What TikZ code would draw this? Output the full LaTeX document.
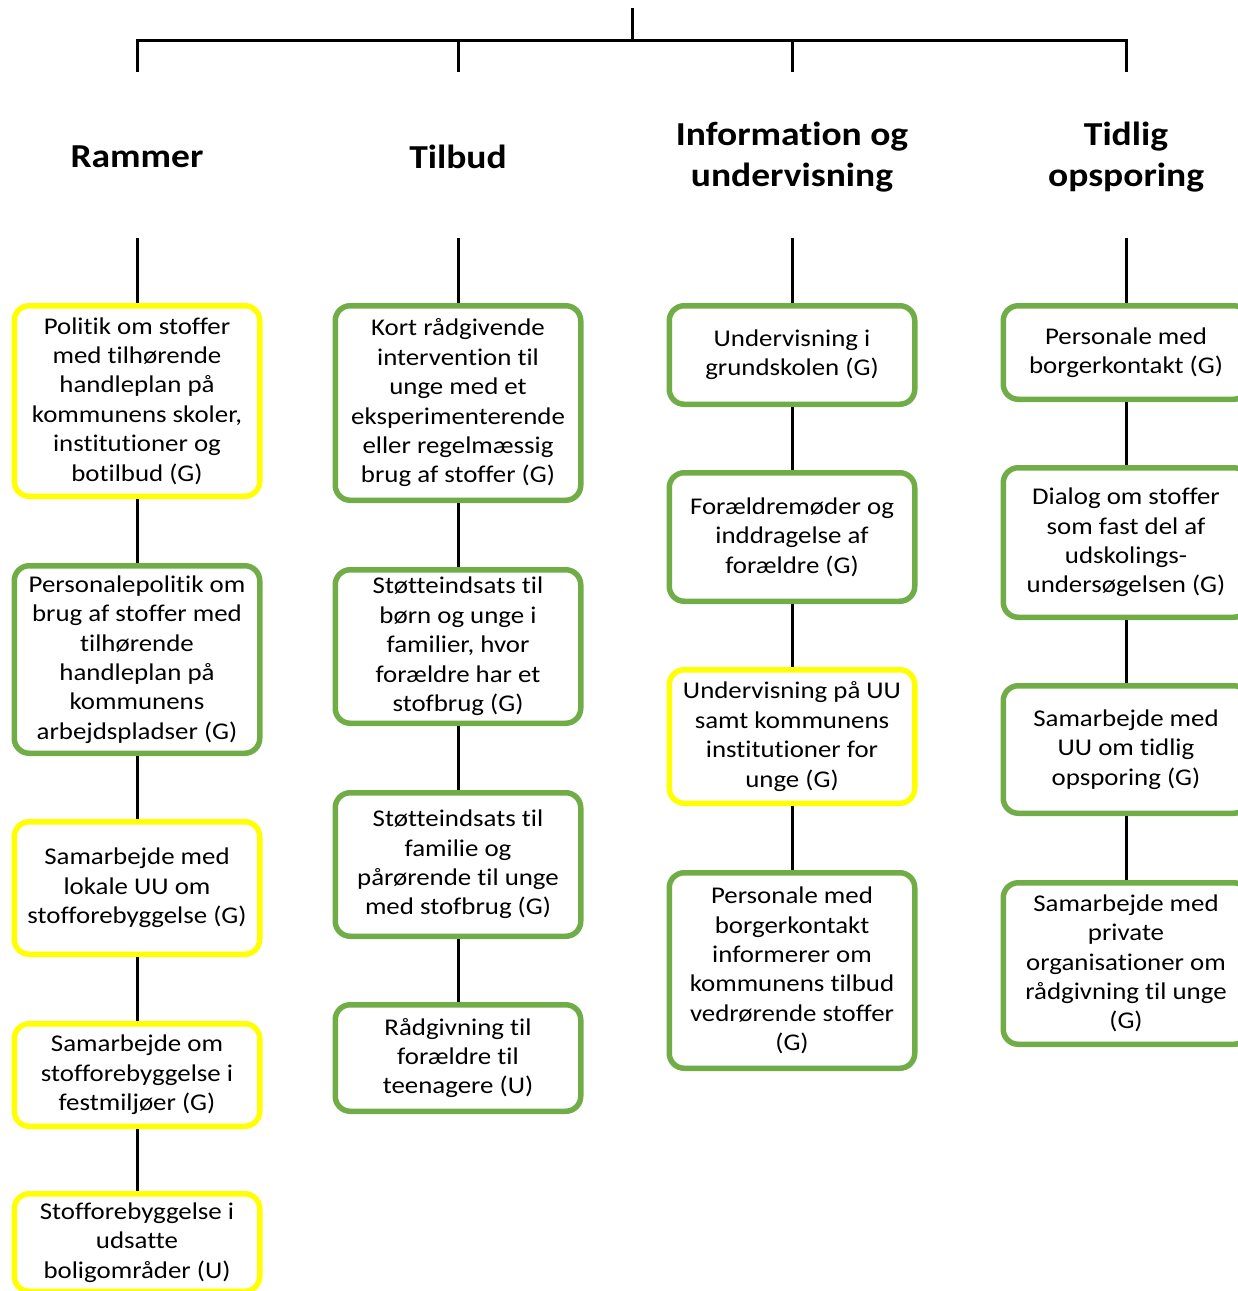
\documentclass[tikz,border=0pt]{standalone}
\usepackage{fontspec}
\setmainfont[FakeStretch=1.12, Ligatures=NoCommon]{Carlito}
\definecolor{boxyellow}{HTML}{FFFF00}
\definecolor{boxgreen}{HTML}{70AD47}
\begin{document}
\begin{tikzpicture}[x=1pt,y=-1pt,
  box/.style={draw, rounded corners=15pt, line width=5.5pt, fill=white,
    minimum width=245.5pt, align=center, inner sep=0pt,
    font=\fontsize{24}{29.4}\selectfont},
  ybox/.style={box, draw=boxyellow},
  gbox/.style={box, draw=boxgreen},
  head/.style={align=center, inner sep=0pt, font=\fontsize{33.5}{41}\selectfont\bfseries},
  link/.style={line width=3pt, black}]
\useasboundingbox (0,0) rectangle (1238,1291);
\clip (0,0) rectangle (1238,1291);

% top tree
\coordinate (root) at (632,8);
\coordinate (bar) at (632,40);
\coordinate (b1) at (137,40); \coordinate (d1) at (137,72);
\coordinate (b2) at (458,40); \coordinate (d2) at (458,72);
\coordinate (b3) at (792,40); \coordinate (d3) at (792,72);
\coordinate (b4) at (1126,40); \coordinate (d4) at (1126,72);
\draw[link] (root) -- (bar);
\draw[link] (d1) -- (b1) -- (b4) -- (d4);
\draw[link] (b2) -- (d2);
\draw[link] (b3) -- (d3);

% column headings
\node[head] (h1) at (137,157) {Rammer};
\node[head] (h2) at (458,157) {Tilbud};
\node[head] (h3) at (792,157) {Information og\\undervisning};
\node[head] (h4) at (1126,157) {Tidlig\\opsporing};
\coordinate (s1) at (137,238);
\coordinate (s2) at (458,238);
\coordinate (s3) at (792,238);
\coordinate (s4) at (1126,238);

% Rammer
\node[ybox, minimum height=190.5pt] (r1) at (137,401) {Politik om stoffer\\med tilhørende\\handleplan på\\kommunens skoler,\\institutioner og\\botilbud (G)};
\node[gbox, minimum height=187.5pt] (r2) at (137,659.5) {Personalepolitik om\\brug af stoffer med\\tilhørende\\handleplan på\\kommunens\\arbejdspladser (G)};
\node[ybox, minimum height=132.5pt] (r3) at (137,888) {Samarbejde med\\lokale UU om\\stofforebyggelse (G)};
\node[ybox, minimum height=102.5pt] (r4) at (137,1075) {Samarbejde om\\stofforebyggelse i\\festmiljøer (G)};
\node[ybox, minimum height=97.5pt] (r5) at (137,1242.5) {Stofforebyggelse i\\udsatte\\boligområder (U)};

% Tilbud
\node[gbox, minimum height=194.5pt] (t1) at (458,403) {Kort rådgivende\\intervention til\\unge med et\\eksperimenterende\\eller regelmæssig\\brug af stoffer (G)};
\node[gbox, minimum height=153.5pt] (t2) at (458,646.5) {Støtteindsats til\\børn og unge i\\familier, hvor\\forældre har et\\stofbrug (G)};
\node[gbox, minimum height=143.5pt] (t3) at (458,864.5) {Støtteindsats til\\familie og\\pårørende til unge\\med stofbrug (G)};
\node[gbox, minimum height=106.5pt] (t4) at (458,1058) {Rådgivning til\\forældre til\\teenagere (U)};

% Information og undervisning
\node[gbox, minimum height=98.5pt] (i1) at (792,355) {Undervisning i\\grundskolen (G)};
\node[gbox, minimum height=128.5pt] (i2) at (792,537) {Forældremøder og\\inddragelse af\\forældre (G)};
\node[ybox, minimum height=133.5pt] (i3) at (792,736.5) {Undervisning på UU\\samt kommunens\\institutioner for\\unge (G)};
\node[gbox, minimum height=195.5pt] (i4) at (792,970.5) {Personale med\\borgerkontakt\\informerer om\\kommunens tilbud\\vedrørende stoffer\\(G)};

% Tidlig opsporing
\node[gbox, minimum height=93.5pt] (o1) at (1126,352.5) {Personale med\\borgerkontakt (G)};
\node[gbox, minimum height=149.5pt] (o2) at (1126,542.5) {Dialog om stoffer\\som fast del af\\udskolings-\\undersøgelsen (G)};
\node[gbox, minimum height=127.5pt] (o3) at (1126,749.5) {Samarbejde med\\UU om tidlig\\opsporing (G)};
\node[gbox, minimum height=161.5pt] (o4) at (1126,963.5) {Samarbejde med\\private\\organisationer om\\rådgivning til unge\\(G)};

% connectors
\draw[link] (s1) -- (r1.north);
\draw[link] (s2) -- (t1.north);
\draw[link] (s3) -- (i1.north);
\draw[link] (s4) -- (o1.north);
\foreach \a/\b in {r1/r2,r2/r3,r3/r4,r4/r5,t1/t2,t2/t3,t3/t4,i1/i2,i2/i3,i3/i4,o1/o2,o2/o3,o3/o4}
  \draw[link] (\a.south) -- (\b.north);
\end{tikzpicture}
\end{document}
